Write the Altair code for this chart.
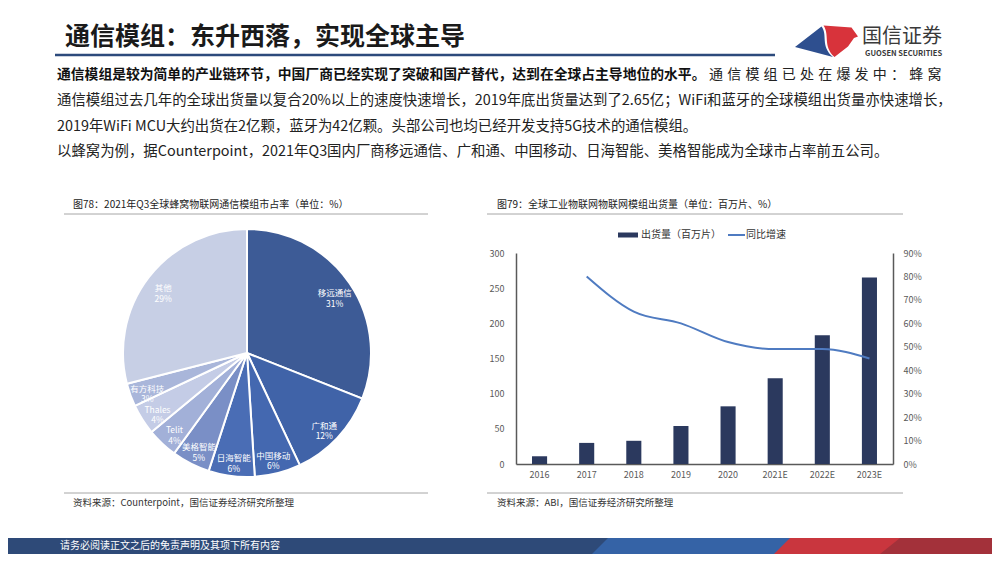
import altair as alt
import pandas as pd

FONT = "Noto Sans CJK SC"

# ---------------- data ----------------
pie_names = ["移远通信", "广和通", "中国移动", "日海智能", "美格智能", "Telit", "Thales", "有方科技", "其他"]
pie_shares = [31, 12, 6, 6, 5, 4, 4, 3, 29]
pie_colors = ["#3D5B96", "#4063A8", "#4468B0", "#4A6DB5", "#7A8FC6",
              "#A2B0D8", "#C4CCE6", "#A9B6DA", "#C7CFE5"]

years = ["2016", "2017", "2018", "2019", "2020", "2021E", "2022E", "2023E"]
shipments = [11, 30, 33, 54, 82, 122, 183, 265]
growth_years = ["2017", "2018", "2019", "2020", "2021E", "2022E", "2023E"]
growth = [80, 65, 60, 52, 49, 49, 45]

left_ticks = [0, 50, 100, 150, 200, 250, 300]
right_ticks = [0, 10, 20, 30, 40, 50, 60, 70, 80, 90]

title_text = "通信模组：东升西落，实现全球主导"
body_l1_bold = "通信模组是较为简单的产业链环节，中国厂商已经实现了突破和国产替代，达到在全球占主导地位的水平。"
body_l1_reg = "通信模组已处在爆发中：蜂窝"
body_l2 = "通信模组过去几年的全球出货量以复合20%以上的速度快速增长，2019年底出货量达到了2.65亿；WiFi和蓝牙的全球模组出货量亦快速增长，"
body_l3 = "2019年WiFi MCU大约出货在2亿颗，蓝牙为42亿颗。头部公司也均已经开发支持5G技术的通信模组。"
body_l4 = "以蜂窝为例，据Counterpoint，2021年Q3国内厂商移远通信、广和通、中国移动、日海智能、美格智能成为全球市占率前五公司。"
fig78_title = "图78：2021年Q3全球蜂窝物联网通信模组市占率（单位：%）"
fig79_title = "图79：全球工业物联网物联网模组出货量（单位：百万片、%）"
src78 = "资料来源：Counterpoint，国信证券经济研究所整理"
src79 = "资料来源：ABI，国信证券经济研究所整理"
legend_bar = "出货量（百万片）"
legend_line = "同比增速"
footer_text = "请务必阅读正文之后的免责声明及其项下所有内容"
logo_cn = "国信证券"
logo_en = "GUOSEN SECURITIES"

# ---------------- frames ----------------
pie_df = pd.DataFrame({
    "name": pie_names,
    "share": pie_shares,
    "idx": list(range(len(pie_names))),
})
pie_df["label"] = [f"{n}\n{v}%" for n, v in zip(pie_names, pie_shares)]
bar_df = pd.DataFrame({"year": years, "ship": shipments})
line_df = pd.DataFrame({"year": growth_years, "g": growth})
reg_df = pd.DataFrame({"ch": list(body_l1_reg), "i": list(range(len(body_l1_reg)))})
dummy = pd.DataFrame({"a": [0]})

CX, CY = 239, 345  # pie centre


def txt(s, x, y, size, color="#222222", weight="normal", align="left"):
    return alt.Chart(dummy).mark_text(
        text=s, fontSize=size, font=FONT, color=color, fontWeight=weight,
        align=align, baseline="middle"
    ).encode(x=alt.value(x), y=alt.value(y))


def hrule(x1, x2, y, color, w):
    return alt.Chart(dummy).mark_rule(color=color, strokeWidth=w).encode(
        x=alt.value(x1), x2=alt.value(x2), y=alt.value(y))


def shape(path, color):
    return alt.Chart(dummy).mark_point(
        shape=path, size=4, filled=True, fill=color, opacity=1, strokeWidth=0
    ).encode(x=alt.value(0), y=alt.value(0))


layers = []

# header
layers.append(txt(title_text, 57, 29, 25, "#1a1a1a", "bold"))
layers.append(hrule(47, 767, 47, "#2C4A7C", 2.5))
layers.append(shape("M787,39 L813.5,18.5 C820,27 812,38 825,49 Z", "#2E4F8F"))
layers.append(shape("M815.5,17.5 L843.5,19.5 L850,28.5 L846,30 L840,38.5 L826.5,49 C814.5,38 822,27 815.5,17.5 Z", "#D8333B"))
layers.append(txt(logo_cn, 854, 29, 20, "#3a3a3a"))
layers.append(txt(logo_en, 857, 46, 7.5, "#3a3a3a", "bold"))

# body
layers.append(txt(body_l1_bold, 49, 67, 13.8, "#111111", "bold"))
layers.append(
    alt.Chart(reg_df).mark_text(fontSize=14, font=FONT, color="#222222", align="left", baseline="middle").encode(
        x=alt.X("i:Q", scale=alt.Scale(domain=[0, len(body_l1_reg)], range=[701, 937.6]), axis=None),
        y=alt.value(67),
        text="ch:N",
    )
)
layers.append(txt(body_l2, 49, 93, 14.4))
layers.append(txt(body_l3, 49, 119, 14.4))
layers.append(txt(body_l4, 49, 144, 14.4))

# left panel frame
layers.append(txt(fig78_title, 65, 197, 10))
layers.append(hrule(56, 420, 206, "#A6A6A6", 1))
layers.append(hrule(56, 420, 485, "#A6A6A6", 1))
layers.append(txt(src78, 65, 495, 9.5, "#333333"))

# right panel frame
layers.append(txt(fig79_title, 489, 197, 10))
layers.append(hrule(479, 895, 206, "#A6A6A6", 1))
layers.append(hrule(479, 895, 485, "#A6A6A6", 1))
layers.append(txt(src79, 489, 495, 9.5, "#333333"))

# pie
theta = alt.Theta("share:Q", stack=True)
order = alt.Order("idx:Q")
layers.append(
    alt.Chart(pie_df).mark_arc(outerRadius=124, stroke="white", strokeWidth=2).encode(
        theta=theta, order=order,
        color=alt.Color("name:N", scale=alt.Scale(domain=pie_names, range=pie_colors), legend=None),
        x=alt.value(CX), y=alt.value(CY),
    )
)
layers.append(
    alt.Chart(pie_df).mark_text(radius=106, fontSize=8.5, lineBreak="\n", lineHeight=10.5,
                                font=FONT, color="white", baseline="middle").encode(
        theta=theta, order=order, text="label:N", x=alt.value(CX), y=alt.value(CY))
)

# bar + line chart
axis_common = dict(title=None, ticks=False, grid=False, labelFont=FONT, labelFontSize=9,
                   labelColor="#595959", domainColor="#595959", domainWidth=1.5)
layers.append(
    alt.Chart(bar_df).mark_bar(color="#2B395E").encode(
        x=alt.X("year:N", sort=years,
                scale=alt.Scale(domain=years, range=[508, 885], paddingInner=0.68, paddingOuter=0.34),
                axis=alt.Axis(orient="bottom", offset=-90, labelAngle=0, labelPadding=6, **axis_common)),
        y=alt.Y("ship:Q", scale=alt.Scale(domain=[0, 300], range=[456, 245], nice=False),
                axis=alt.Axis(orient="left", offset=-508, values=left_ticks, labelPadding=12, **axis_common)),
    )
)
layers.append(
    alt.Chart(line_df).mark_line(color="#4F7BC1", strokeWidth=2, interpolate="monotone").encode(
        x=alt.X("year:N", sort=years,
                scale=alt.Scale(type="point", domain=years, range=[531.56, 861.44], padding=0),
                axis=None),
        y=alt.Y("g:Q", scale=alt.Scale(domain=[0, 90], range=[456, 245], nice=False),
                axis=alt.Axis(orient="right", offset=-99, values=right_ticks, labelExpr="datum.value + '%'",
                              labelPadding=10, **axis_common)),
    )
)

# legend
layers.append(alt.Chart(dummy).mark_rect(color="#2B395E").encode(
    x=alt.value(610), x2=alt.value(630), y=alt.value(224.5), y2=alt.value(229.5)))
layers.append(txt(legend_bar, 633, 227, 10, "#333333"))
layers.append(hrule(720, 737, 227, "#4F7BC1", 2))
layers.append(txt(legend_line, 738, 227, 10, "#333333"))

# footer
layers.append(alt.Chart(dummy).mark_rect(color="#2E4A78").encode(
    x=alt.value(0), x2=alt.value(984), y=alt.value(530), y2=alt.value(546)))
layers.append(shape("M600,530 L792,530 L776,546 L584,546 Z", "#3563A6"))
layers.append(shape("M782,530 L984,530 L984,546 L766,546 Z", "#C9363E"))
layers.append(shape("M892,530 L984,530 L984,546 L872,546 Z", "#A3313A"))
layers.append(txt(footer_text, 52, 538, 10, "white"))

chart = alt.layer(*layers).resolve_scale(
    x="independent", y="independent", theta="independent", color="independent"
).properties(
    width=984, height=546, padding=0,
    autosize=alt.AutoSizeParams(type="none"),
    background="white",
).configure(font=FONT).configure_view(stroke=None)

chart.save("out.html", embed_options={"renderer": "svg", "actions": False})
